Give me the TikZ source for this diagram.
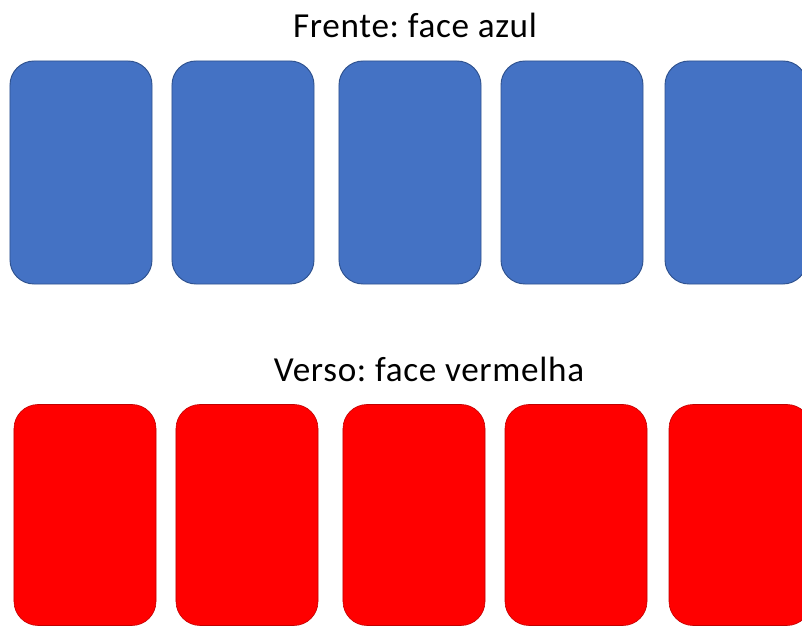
\documentclass[tikz,border=0pt]{standalone}
\usepackage{fontspec}
\setmainfont{Carlito}
\newfontfamily\titlefont[LetterSpace=2]{Carlito}
\definecolor{cardblue}{HTML}{4472C4}
\definecolor{cardblueline}{HTML}{2F528F}
\definecolor{cardred}{HTML}{FF0000}
\definecolor{cardredline}{HTML}{C00000}
\begin{document}
\frenchspacing
\begin{tikzpicture}[x=0.03cm, y=-0.03cm,
            card/.style={rectangle, rounded corners=0.72cm, minimum width=4.26cm, minimum height=6.69cm, inner sep=0pt, outer sep=0pt},
            bluecard/.style={card, fill=cardblue, draw=cardblueline, line width=0.8pt},
            redcard/.style={card, fill=cardred, draw=cardredline, line width=0.5pt, minimum height=6.63cm},
            title/.style={font=\titlefont\fontsize{30}{34}\selectfont, anchor=base}
        ]
        \clip (0,0) rectangle (802,626);
        \fill[white] (0,0) rectangle (802,626);

        \node[title] (front) at (415, 38) {Frente: face azul};
        \node[bluecard] (B1) at (81, 172.5) {};
        \node[bluecard] (B2) at (243, 172.5) {};
        \node[bluecard] (B3) at (410, 172.5) {};
        \node[bluecard] (B4) at (572, 172.5) {};
        \node[bluecard] (B5) at (736, 172.5) {};

        \node[title] (back) at (429, 382) {Verso: face vermelha};
        \node[redcard] (R1) at (85, 515) {};
        \node[redcard] (R2) at (247, 515) {};
        \node[redcard] (R3) at (414, 515) {};
        \node[redcard] (R4) at (576, 515) {};
        \node[redcard] (R5) at (740, 515) {};
    \end{tikzpicture}
\end{document}
